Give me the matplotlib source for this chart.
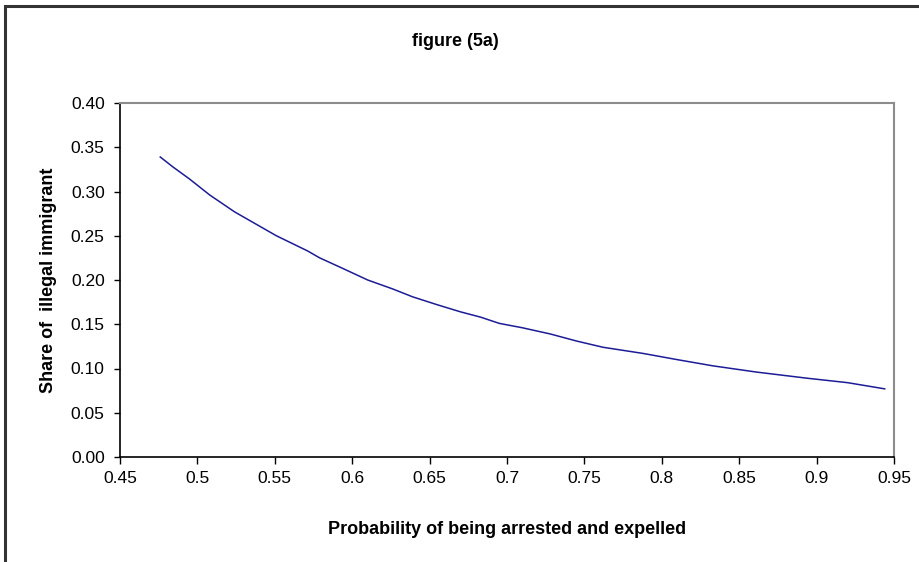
import matplotlib
matplotlib.use("Agg")
import matplotlib.pyplot as plt
from matplotlib.patches import Rectangle

# values
prob = [0.476, 0.484, 0.495, 0.508, 0.524, 0.539, 0.551, 0.571, 0.579, 0.594,
        0.610, 0.626, 0.639, 0.655, 0.670, 0.683, 0.695, 0.710, 0.728, 0.745,
        0.762, 0.788, 0.810, 0.833, 0.861, 0.894, 0.920, 0.944]
share = [0.339, 0.328, 0.314, 0.296, 0.277, 0.262, 0.250, 0.233, 0.225, 0.213,
         0.200, 0.190, 0.181, 0.172, 0.164, 0.158, 0.151, 0.146, 0.139, 0.131,
         0.124, 0.117, 0.110, 0.103, 0.096, 0.089, 0.084, 0.077]

xticks = [0.45, 0.5, 0.55, 0.6, 0.65, 0.7, 0.75, 0.8, 0.85, 0.9, 0.95]
xticklabels = ["0.45", "0.5", "0.55", "0.6", "0.65", "0.7", "0.75", "0.8", "0.85", "0.9", "0.95"]
yticks = [0.0, 0.05, 0.10, 0.15, 0.20, 0.25, 0.30, 0.35, 0.40]
yticklabels = ["%.2f" % v for v in yticks]

plt.rcParams["font.family"] = ["Liberation Sans", "DejaVu Sans"]

fig = plt.figure(figsize=(9.2, 5.62), dpi=100)

# outer chart border (right/bottom edges fall outside the image)
fig.patches.append(Rectangle((5 / 920, -0.1), 1.2, 1 - 6 / 562 + 0.1, transform=fig.transFigure,
                             fill=False, edgecolor="#333333", linewidth=2.2))

ax = fig.add_axes([120 / 920, 1 - 457 / 562, 774 / 920, 354 / 562])
ax.plot(prob, share, color="#1c1c96", linewidth=1.1)

ax.set_xlim(0.45, 0.95)
ax.set_ylim(0, 0.40)
ax.set_xticks(xticks)
ax.set_xticklabels(xticklabels)
ax.set_yticks(yticks)
ax.set_yticklabels(yticklabels)
ax.tick_params(direction="out", length=5, width=1, labelsize=12.5, colors="black")
ax.tick_params(axis="x", pad=5)
ax.tick_params(axis="y", length=4, pad=7)

for s in ["left", "bottom"]:
    ax.spines[s].set_color("black")
    ax.spines[s].set_linewidth(1.2)
for s in ["top", "right"]:
    ax.spines[s].set_color("#8c8c8c")
    ax.spines[s].set_linewidth(1.5)

ax.set_xlabel("Probability of being arrested and expelled", fontsize=13, fontweight="bold", labelpad=25)
ax.set_ylabel("Share of  illegal immigrant", fontsize=13, fontweight="bold", labelpad=10)
fig.text(455 / 920, 1 - 42 / 562, "figure (5a)", ha="center", va="center", fontsize=13, fontweight="bold")

fig.savefig("out.png", dpi=100)
